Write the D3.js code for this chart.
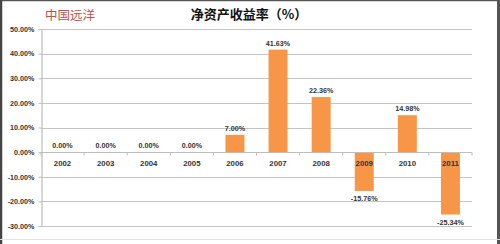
<!DOCTYPE html>
<html>
<head>
<meta charset="utf-8">
<script src="https://cdn.jsdelivr.net/npm/d3@7"></script>
<style>
  body { margin: 0; background: #fff; }
  text { font-family: "Liberation Sans", Arial, sans-serif; }
</style>
</head>
<body>
<div id="chart"></div>
<script>
const years = ['2002', '2003', '2004', '2005', '2006', '2007', '2008', '2009', '2010', '2011'];
const roe = [0, 0, 0, 0, 7.00, 41.63, 22.36, -15.76, 14.98, -25.34];
const yTicks = [50, 40, 30, 20, 10, 0, -10, -20, -30];

const W = 500, H = 244;
const margin = { top: 29, right: 28, bottom: 18, left: 41 };

// plain hyphen for negatives, like the original
const pct = d => d3.formatLocale({ decimal: '.', thousands: ',', grouping: [3], currency: ['', ''], minus: '-' })
    .format('.2f')(d) + '%';

const svg = d3.select('#chart')
    .append('svg')
    .attr('width', W)
    .attr('height', H);

svg.append('rect')
    .attr('width', W)
    .attr('height', H)
    .attr('fill', '#fff');

// frame
svg.append('line').attr('x1', 0).attr('x2', W).attr('y1', 0.5).attr('y2', 0.5)
    .attr('stroke', '#555').attr('stroke-width', 1.5);
svg.append('line').attr('x1', 1).attr('x2', 1).attr('y1', 0).attr('y2', H)
    .attr('stroke', '#444').attr('stroke-width', 2.5);
svg.append('line').attr('x1', W - 1.5).attr('x2', W - 1.5).attr('y1', 0).attr('y2', H)
    .attr('stroke', '#555').attr('stroke-width', 3);
svg.append('line').attr('x1', 0).attr('x2', W).attr('y1', 239.5).attr('y2', 239.5)
    .attr('stroke', '#e4e4e4').attr('stroke-width', 1);

const x = d3.scaleBand()
    .domain(years)
    .range([margin.left, W - margin.right])
    .paddingInner(0.56)
    .paddingOuter(0.28);

const y = d3.scaleLinear()
    .domain([-30, 50])
    .range([226, 29]);

const g = svg.append('g');

// gridlines
g.selectAll('.grid')
    .data(yTicks)
    .enter()
    .append('line')
    .attr('class', 'grid')
    .attr('x1', margin.left)
    .attr('x2', W - margin.right)
    .attr('y1', d => Math.round(y(d)) + 0.5)
    .attr('y2', d => Math.round(y(d)) + 0.5)
    .attr('stroke', '#c4c4c4')
    .attr('stroke-width', 1.2);

// y axis
const yAxis = svg.append('g')
    .attr('transform', `translate(${margin.left + 0.5},0)`)
    .call(d3.axisLeft(y).tickValues(yTicks).tickSize(3).tickFormat(pct));
yAxis.select('.domain').attr('stroke', '#bdbdbd').attr('stroke-width', 1.2);
yAxis.selectAll('.tick line').attr('stroke', '#bdbdbd');
yAxis.selectAll('.tick text')
    .attr('fill', '#333')
    .attr('font-size', 7.2)
    .attr('font-weight', 'bold')
    .attr('dx', -1);

// bars
svg.selectAll('.bar')
    .data(roe)
    .enter()
    .append('rect')
    .attr('class', 'bar')
    .attr('x', (d, i) => x(years[i]))
    .attr('width', x.bandwidth())
    .attr('y', d => y(Math.max(0, d)))
    .attr('height', d => Math.abs(y(d) - y(0)))
    .attr('fill', '#f79646');

// category axis at zero
const step = x.step();
const xAxis = svg.append('g')
    .attr('transform', `translate(0,${Math.round(y(0)) + 0.5})`);
xAxis.append('line')
    .attr('x1', margin.left)
    .attr('x2', W - margin.right)
    .attr('stroke', '#bdbdbd')
    .attr('stroke-width', 1.2);
xAxis.selectAll('.xtick')
    .data(d3.range(years.length + 1))
    .enter()
    .append('line')
    .attr('class', 'xtick')
    .attr('x1', i => margin.left + i * step)
    .attr('x2', i => margin.left + i * step)
    .attr('y1', 0)
    .attr('y2', 3)
    .attr('stroke', '#bdbdbd');

svg.selectAll('.year')
    .data(years)
    .enter()
    .append('text')
    .attr('class', 'year')
    .attr('x', d => x(d) + x.bandwidth() / 2)
    .attr('y', 166)
    .attr('text-anchor', 'middle')
    .attr('font-size', 7.8)
    .attr('font-weight', 'bold')
    .attr('fill', '#333')
    .text(d => d);

// data labels
svg.selectAll('.label')
    .data(roe)
    .enter()
    .append('text')
    .attr('class', 'label')
    .attr('x', (d, i) => x(years[i]) + x.bandwidth() / 2)
    .attr('y', d => d >= 0 ? y(d) - 4 : y(d) + 10.5)
    .attr('text-anchor', 'middle')
    .attr('font-size', 7.2)
    .attr('font-weight', 'bold')
    .attr('fill', '#333')
    .text(pct);

// titles
svg.append('text')
    .attr('x', 249)
    .attr('y', 19)
    .attr('text-anchor', 'middle')
    .attr('font-size', 13)
    .attr('font-weight', 'bold')
    .attr('fill', '#111')
    .style('font-family', '"Noto Sans CJK SC", sans-serif')
    .text('净资产收益率（%）');

svg.append('text')
    .attr('x', 45)
    .attr('y', 20)
    .attr('font-size', 12.5)
    .attr('fill', '#c0504d')
    .style('font-family', '"Noto Sans CJK SC", sans-serif')
    .text('中国远洋');
</script>
</body>
</html>
